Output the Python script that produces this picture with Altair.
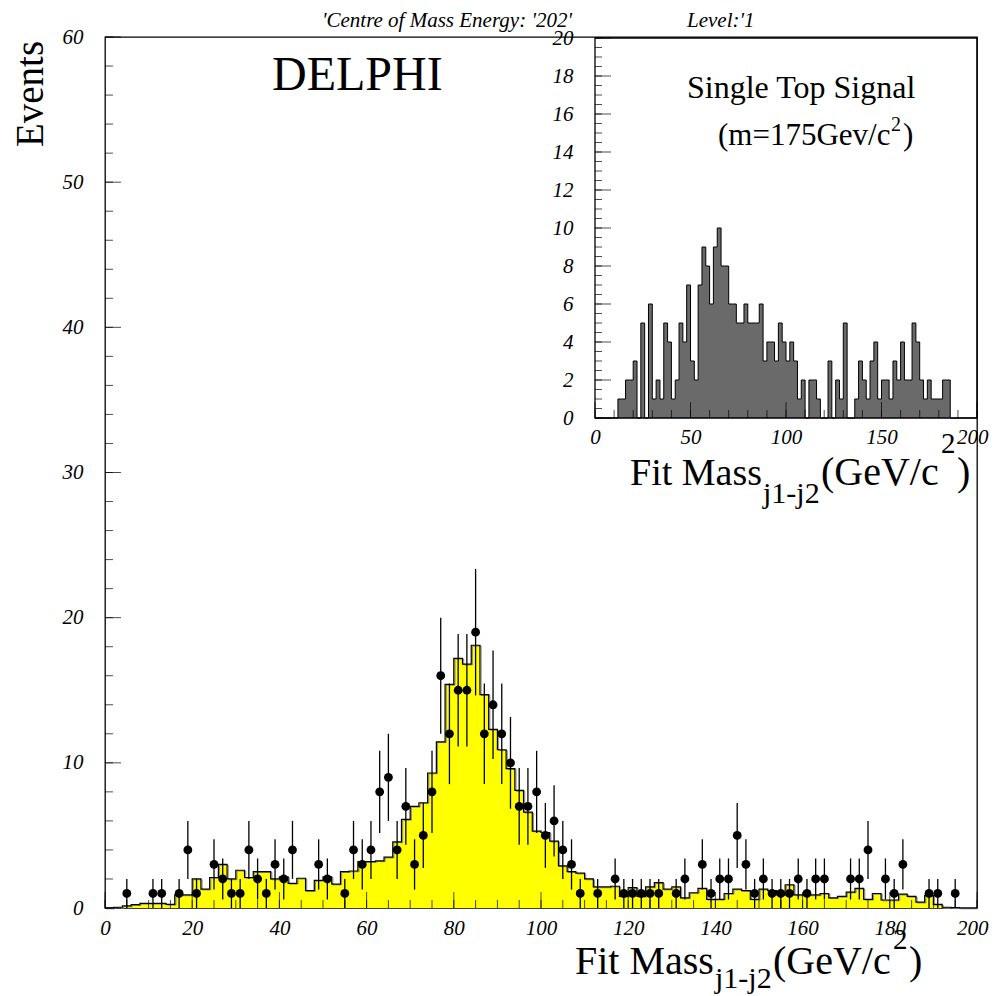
import altair as alt
import pandas as pd
import math

# ---------------- data ----------------
BIN_W = 2.0
# Monte-Carlo expectation (yellow), 100 bins of 2 GeV, 0..200
mc_counts = [
    0, 0.05, 0.14, 0.23, 0.32, 0.32, 0.32, 0.25, 0.9, 0.9,
    2.0, 1.3, 2.1, 3.0, 2.0, 2.6, 2.1, 2.5, 2.5, 2.0,
    2.15, 1.7, 2.05, 1.2, 1.9, 2.15, 1.65, 2.5, 2.55, 3.2,
    3.2, 3.25, 3.5, 4.55, 6.1, 7.0, 7.25, 9.3, 11.45, 15.4,
    17.2, 16.8, 18.1, 14.7, 12.3, 10.9, 9.6, 8.1, 6.6, 5.3,
    5.2, 4.6, 2.9, 2.5, 2.4, 2.0, 1.45, 1.45, 1.5, 0.8,
    1.4, 0.8, 1.45, 1.75, 1.3, 1.45, 0.7, 1.05, 1.35, 0.6,
    0.6, 1.0, 1.3, 1.2, 0.6, 1.3, 1.2, 0.9, 1.6, 0.9,
    0.9, 0.9, 1.0, 0.7, 0.8, 1.1, 1.35, 0.6, 1.0, 0.55,
    0.55, 0.95, 0.8, 0.4, 0.85, 0.25, 0.05, 0.02, 0, 0,
]
# Real data points (bin centres in GeV, counts)
data_mass = [
    5, 11, 13, 17, 19, 21,
    25, 27, 29, 31, 33, 35, 37, 39, 41, 43,
    49, 51,
    55, 57, 59, 61, 63, 65, 67, 69, 71, 73, 75, 77, 79, 81, 83, 85, 87, 89,
    91, 93, 95, 97, 99, 101, 103, 105, 107, 109,
    113,
    117, 119, 121, 123, 125, 127,
    131, 133,
    137, 139, 141, 143, 145, 147, 149, 151, 153, 155, 157, 159, 161, 163, 165,
    171, 173, 175,
    179, 181, 183,
    189, 191,
    195,
]
data_counts = [
    1, 1, 1, 1, 4, 1,
    3, 2, 1, 1, 4, 2, 1, 3, 2, 4,
    3, 2,
    1, 4, 3, 4, 8, 9, 4, 7, 3, 5, 8, 16, 12, 15, 15, 19, 12, 14,
    12, 10, 7, 7, 8, 5, 6, 4, 3, 1,
    1,
    2, 1, 1, 1, 1, 1,
    1, 2,
    3, 1, 2, 2, 5, 3, 1, 2, 1, 1, 1, 2, 1, 2, 2,
    2, 2, 4,
    2, 1, 3,
    1, 1,
    1,
]
# Single top signal (inset), 100 bins of 2 GeV
signal_counts = [
    0, 0, 0, 0, 0, 0, 1, 1, 2, 2,
    3, 0, 5, 0, 6, 1, 2, 1, 5, 4,
    1, 2, 5, 4, 7, 3, 2, 7, 9, 8,
    6, 9, 10, 8, 8, 6, 6, 5, 5, 6,
    5, 5, 5, 6, 3, 4, 4, 3, 5, 4,
    3, 4, 3, 1, 2, 0, 2, 2, 1, 0,
    0, 3, 0, 2, 1, 5, 0, 0, 1, 3,
    2, 1, 3, 4, 1, 2, 2, 1, 3, 2,
    4, 2, 2, 5, 4, 2, 1, 2, 1, 1,
    1, 2, 2, 0, 0, 0, 0, 0, 0, 0,
]

main_x_labels = list(range(0, 201, 20))
main_y_labels = list(range(0, 61, 10))
inset_x_labels = [0, 50, 100, 150, 200]
inset_y_labels = list(range(0, 21, 2))
main_x_minor = list(range(0, 201, 5))
main_y_minor = list(range(0, 61, 2))
inset_x_minor = list(range(0, 201, 10))
inset_y_minor = [i * 0.5 for i in range(41)]

# ---------------- tables ----------------
edges = [i * BIN_W for i in range(len(mc_counts) + 1)]
mc_df = pd.DataFrame({"x": edges, "y": mc_counts + [0]})
sig_df = pd.DataFrame({"x": edges, "y": signal_counts + [0]})
pts_df = pd.DataFrame({"x": data_mass, "n": data_counts})
pts_df["lo"] = pts_df["n"] - pts_df["n"].apply(math.sqrt)
pts_df["hi"] = pts_df["n"] + pts_df["n"].apply(math.sqrt)
frame_df = pd.DataFrame({"x0": [0], "x1": [200], "y0": [0], "y1": [20]})
dummy = pd.DataFrame({"d": [0]})

W, H = 872, 871
SERIF = "Liberation Serif"

xs = alt.Scale(domain=[0, 200], nice=False, zero=False)
ys = alt.Scale(domain=[0, 60], nice=False, zero=False)
ixs = alt.Scale(domain=[0, 200], range=[490, 872], nice=False, zero=False)
iys = alt.Scale(domain=[0, 20], range=[381, 1], nice=False, zero=False)

lab = dict(ticks=False, domain=False, grid=False, labelFont=SERIF,
           labelFontStyle="italic", labelFontSize=21, labelColor="black",
           labelFlush=False, labelOverlap=False, labelBound=False, title=None)
# keep the last x label ("200") inside the page
last_align = {"condition": {"test": "datum.value == 200", "value": "right"}, "value": "center"}
last_offset = {"condition": {"test": "datum.value == 200", "value": 11}, "value": 0}

main_x_axis = alt.Axis(orient="bottom", values=main_x_labels, labelPadding=26,
                       labelBaseline="alphabetic", labelAlign=last_align,
                       labelOffset=last_offset, **lab)
main_y_axis = alt.Axis(orient="left", values=main_y_labels, labelPadding=22,
                       labelBaseline="middle", **lab)
inset_x_axis = alt.Axis(orient="bottom", offset=-490, values=inset_x_labels,
                        labelPadding=25, labelBaseline="alphabetic",
                        labelAlign=last_align, labelOffset=last_offset, **lab)
inset_y_axis = alt.Axis(orient="left", offset=-490, values=inset_y_labels,
                        labelPadding=22, labelBaseline="middle", **lab)


def xticks(vals, size, xscale, yscale, xaxis, yaxis):
    return alt.Chart(pd.DataFrame({"v": vals})).mark_tick(
        orient="vertical", size=size, thickness=1, color="black", yOffset=-size / 2
    ).encode(x=alt.X("v:Q", scale=xscale, axis=xaxis),
             y=alt.YDatum(0, scale=yscale, axis=yaxis))


def yticks(vals, size, xscale, yscale, xaxis, yaxis):
    return alt.Chart(pd.DataFrame({"v": vals})).mark_tick(
        orient="horizontal", size=size, thickness=1, color="black", xOffset=size / 2
    ).encode(y=alt.Y("v:Q", scale=yscale, axis=yaxis),
             x=alt.XDatum(0, scale=xscale, axis=xaxis))


def txt(s, x, y, size, style="normal", angle=0, align="left"):
    return alt.Chart(dummy).mark_text(
        text=s, font=SERIF, fontSize=size, fontStyle=style, color="black",
        align=align, baseline="alphabetic", angle=angle
    ).encode(x=alt.value(x), y=alt.value(y))


def mx(f):
    return alt.X(f, scale=xs, axis=main_x_axis)


def my(f):
    return alt.Y(f, scale=ys, axis=main_y_axis)


def ix(f):
    return alt.X(f, scale=ixs, axis=inset_x_axis)


def iy(f):
    return alt.Y(f, scale=iys, axis=inset_y_axis)


# ---------------- main plot ----------------
mc_area = alt.Chart(mc_df).mark_area(interpolate="step-after", color="#ffff00").encode(
    x=mx("x:Q"), y=my("y:Q"))
mc_shadow = alt.Chart(mc_df).mark_line(
    interpolate="step-after", color="#8a8a8a", strokeWidth=1, xOffset=1.2, yOffset=0.8
).encode(x=mx("x:Q"), y=my("y:Q"))
mc_line = alt.Chart(mc_df).mark_line(
    interpolate="step-after", color="black", strokeWidth=1.2
).encode(x=mx("x:Q"), y=my("y:Q"))
err = alt.Chart(pts_df).mark_rule(color="black", strokeWidth=1.3).encode(
    x=mx("x:Q"), y=my("lo:Q"), y2="hi:Q")
pts = alt.Chart(pts_df).mark_circle(size=78, color="black", opacity=1).encode(
    x=mx("x:Q"), y=my("n:Q"))

main = alt.layer(
    mc_area, mc_shadow, mc_line, err, pts,
    xticks(main_x_minor, 8, xs, ys, main_x_axis, main_y_axis),
    xticks(main_x_labels, 16, xs, ys, main_x_axis, main_y_axis),
    yticks(main_y_minor, 8, xs, ys, main_x_axis, main_y_axis),
    yticks(main_y_labels, 16, xs, ys, main_x_axis, main_y_axis),
    txt("'Centre of Mass Energy: '202'", 217, -10, 21, "italic"),
    txt("Level:'1", 582, -10, 21, "italic"),
    txt("Events", -62, 57, 39, angle=270, align="center"),
    txt("DELPHI", 167, 53, 48),
    txt("Single Top Signal", 582, 61, 32),
    txt("(m=175Gev/c", 613, 108, 31),
    txt("2", 786, 94, 20),
    txt(")", 798, 108, 31),
    txt("Fit Mass", 470, 937, 40),
    txt("j1-j2", 610, 951, 30),
    txt("(GeV/c", 668, 937, 40),
    txt("2", 788, 912, 29),
    txt(")", 804, 937, 40),
    txt("Fit Mass", 525, 448, 38),
    txt("j1-j2", 658, 466, 30),
    txt("(GeV/c", 716, 448, 40),
    txt("2", 836, 416, 29),
    txt(")", 852, 448, 40),
)

# ---------------- inset ----------------
sig_area = alt.Chart(sig_df).mark_area(interpolate="step-after", color="#6a6a6a").encode(
    x=ix("x:Q"), y=iy("y:Q"))
sig_line = alt.Chart(sig_df).mark_line(
    interpolate="step-after", color="black", strokeWidth=1
).encode(x=ix("x:Q"), y=iy("y:Q"))
frame = alt.Chart(frame_df).mark_rect(
    fillOpacity=0, stroke="black", strokeWidth=1.3
).encode(x=ix("x0:Q"), x2="x1:Q", y=iy("y0:Q"), y2="y1:Q")
inset = alt.layer(
    sig_area, sig_line, frame,
    xticks(inset_x_minor, 8, ixs, iys, inset_x_axis, inset_y_axis),
    xticks(inset_x_labels, 16, ixs, iys, inset_x_axis, inset_y_axis),
    yticks(inset_y_minor, 7, ixs, iys, inset_x_axis, inset_y_axis),
    yticks(inset_y_labels, 16, ixs, iys, inset_x_axis, inset_y_axis),
)

chart = alt.layer(main, inset).resolve_scale(
    x="independent", y="independent"
).resolve_axis(
    x="independent", y="independent"
).properties(
    width=W, height=H,
    autosize=alt.AutoSizeParams(type="none"),
    padding={"left": 97, "top": 29, "right": 13, "bottom": 88},
    background="white",
).configure_view(stroke="black", strokeWidth=1.3)

chart.save("out.html", embed_options={"renderer": "svg", "actions": False})
